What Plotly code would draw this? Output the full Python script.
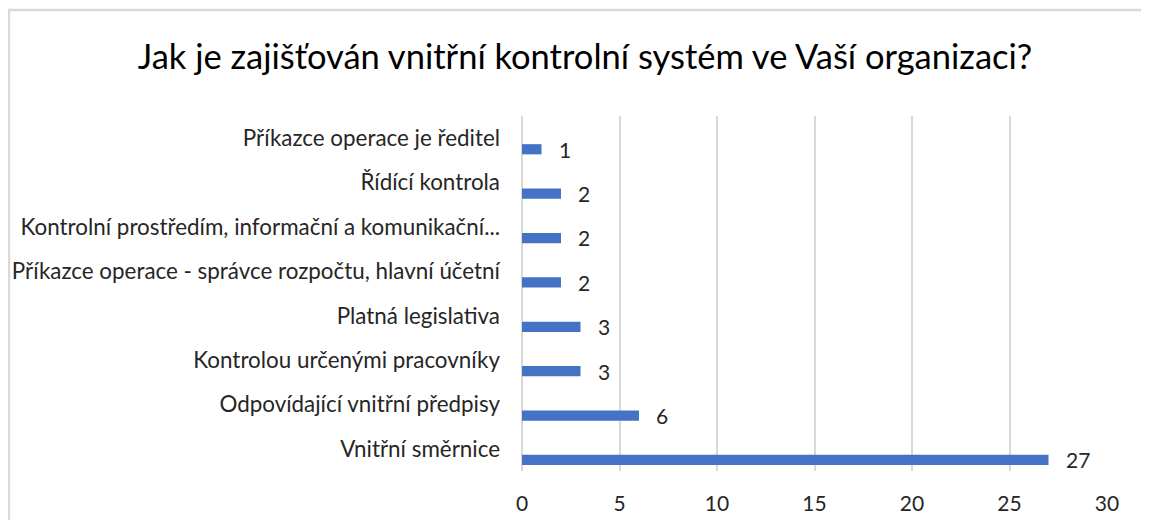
import plotly.graph_objects as go

categories = [
    "Příkazce operace je ředitel",
    "Řídící kontrola",
    "Kontrolní prostředím, informační a komunikační...",
    "Příkazce operace - správce rozpočtu, hlavní účetní",
    "Platná legislativa",
    "Kontrolou určenými pracovníky",
    "Odpovídající vnitřní předpisy",
    "Vnitřní směrnice",
]
values = [1, 2, 2, 2, 3, 3, 6, 27]
x_ticks = [0, 5, 10, 15, 20, 25, 30]
title_text = "Jak je zajišťován vnitřní kontrolní systém ve Vaší organizaci?"

FONT = "Lato"
OFF = 8  # page body margin
W, H = 1149 - OFF, 520 - OFF
L, R, T, B = 522 - OFF, 42, 116 - OFF, 49
pw, ph = W - L - R, H - T - B

fig = go.Figure()
fig.add_trace(go.Bar(
    y=categories, x=values, orientation="h",
    marker=dict(color="#4472C4", line=dict(width=0)),
    width=0.23, offset=0.135,
    hoverinfo="x+y",
))

for c, v in zip(categories, values):
    fig.add_annotation(
        x=v, y=c, xref="x", yref="y", text=str(v), showarrow=False,
        xanchor="left", yanchor="middle", xshift=15, yshift=-11,
        font=dict(family=FONT, size=21, color="#262626"),
    )

# outer chart border
fig.add_shape(
    type="rect", xref="paper", yref="paper",
    x0=(9 - OFF - L) / pw, x1=(1170 - L) / pw,
    y0=(H - B - 540) / ph, y1=(H - B - (10 - OFF)) / ph,
    line=dict(color="#D9D9D9", width=2.5), fillcolor="rgba(0,0,0,0)",
    layer="below",
)

fig.update_layout(
    width=W, height=H,
    margin=dict(l=L, r=R, t=T, b=B, autoexpand=False),
    paper_bgcolor="white", plot_bgcolor="white",
    showlegend=False,
    title=dict(
        text=title_text, xref="paper", xanchor="center",
        x=(585 - OFF - L) / pw,
        y=1 - (57 - OFF) / H, yref="container", yanchor="middle",
        font=dict(family=FONT, size=34.5, color="#000000"),
    ),
    font=dict(family=FONT, color="#262626"),
)

fig.update_xaxes(
    range=[0, 30], tickvals=x_ticks, ticktext=[str(t) for t in x_ticks],
    showgrid=True, gridcolor="#D9D9D9", gridwidth=1.5,
    zeroline=True, zerolinecolor="#D9D9D9", zerolinewidth=1.5,
    showline=False, ticks="", ticklabelstandoff=18, automargin=False,
    tickfont=dict(family=FONT, size=21, color="#262626"),
)
fig.update_yaxes(
    categoryorder="array", categoryarray=categories,
    range=[len(categories) - 0.5, -0.5], autorange=False,
    showgrid=False, zeroline=False, showline=False, ticks="",
    ticklabelstandoff=21, automargin=False,
    tickfont=dict(family=FONT, size=22.4, color="#262626"),
)

fig.write_html("out.html")
